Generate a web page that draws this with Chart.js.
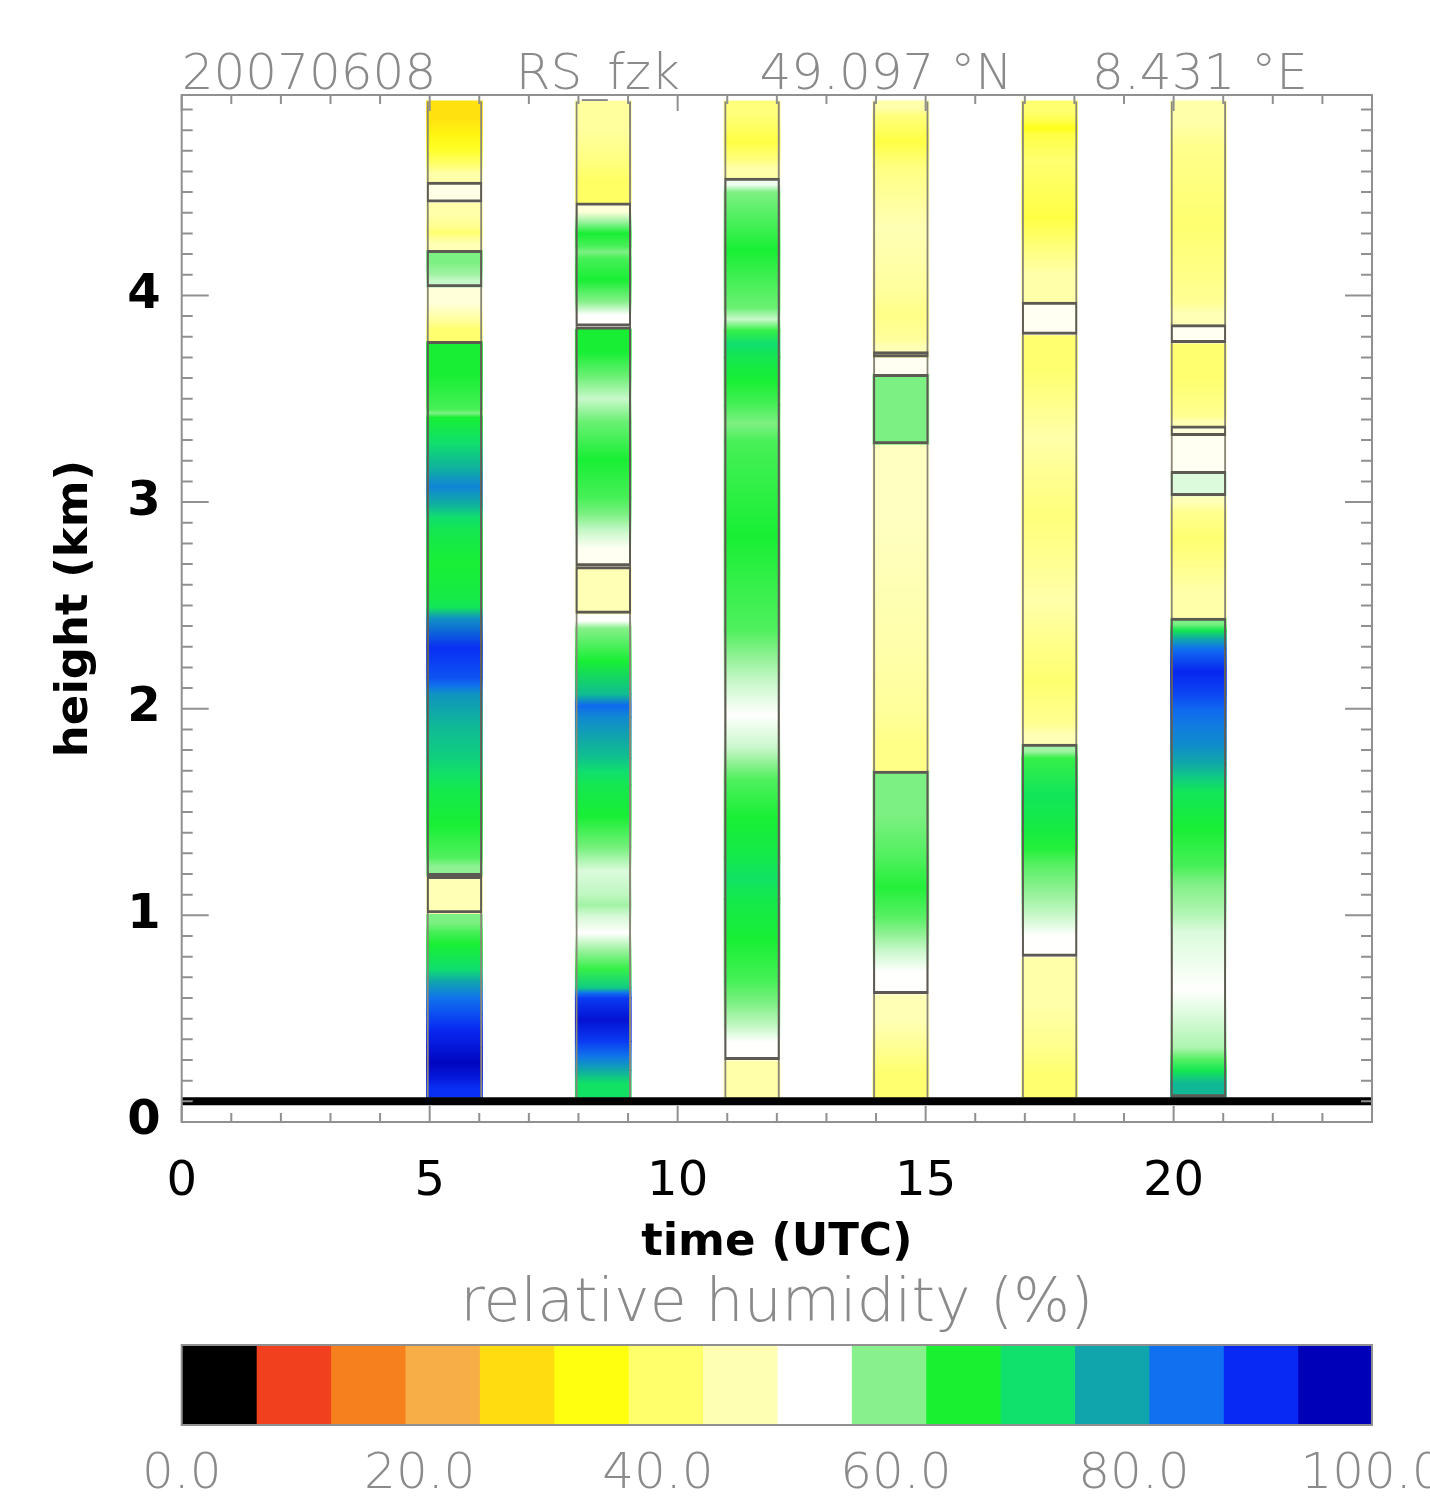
<!DOCTYPE html>
<html>
<head>
<meta charset="utf-8">
<title>RS_fzk relative humidity 20070608</title>
<script src="https://cdn.jsdelivr.net/npm/chart.js@4.4.1/dist/chart.umd.min.js"></script>
<style>
  html, body { margin: 0; padding: 0; background: #fff; }
  #wrap { position: relative; width: 1430px; height: 1506px; }
  #profileChart { position: absolute; left: 0; top: 0; }
  #scaleChart { position: absolute; left: 0; top: 1275px; }
</style>
</head>
<body>
<div id="wrap">
  <canvas id="profileChart" width="1430" height="1275"></canvas>
  <canvas id="scaleChart" width="1430" height="231"></canvas>
</div>
<script>
const headerParts = ['20070608', 'RS_fzk', '49.097 °N', '8.431 °E'];
const hourTicks = [0, 5, 10, 15, 20];
const kmTicks = [0, 1, 2, 3, 4];
const rhTicks = [0, 20, 40, 60, 80, 100];

const launchHours = [5, 8, 11, 14, 17, 20];
const surfaceKm = 0.12;
const groundKm = 0.1;
const profileTopKm = 4.94;

// colour table: 16 classes of relative humidity
const rhLevels = [0, 6.25, 12.5, 18.75, 25, 31.25, 37.5, 43.75, 50, 56.25, 62.5, 68.75, 75, 81.25, 87.5, 93.75, 100];
const rhColors = ['#000000', '#f0401e', '#f6801e', '#f8ae46', '#ffdc10', '#ffff10', '#ffff6c', '#ffffb4',
                  '#ffffff', '#88f08c', '#18f030', '#10e06c', '#10a4ac', '#1070f0', '#0828f4', '#0000b8'];

// each sounding: layer tops (km) and relative humidity (%) of the layer below that top
const tops05 = [0.21, 0.36, 0.52, 0.68, 0.80, 0.92, 1.01, 1.19, 1.28, 1.60, 1.76, 2.07, 2.15, 2.44, 2.54, 2.86, 2.99, 3.16, 3.41, 3.45, 3.78, 3.89, 4.04, 4.10, 4.22, 4.28, 4.33, 4.45, 4.55, 4.63, 4.78, 4.94];
const rh05   = [90, 96, 91, 84, 72, 66, 60, 47, 59, 66, 71, 76, 84, 90, 70, 66, 72, 82, 72, 60, 66, 41, 50, 56, 60, 47, 41, 46, 51, 46, 36, 29];

const tops08 = [0.25, 0.39, 0.60, 0.65, 0.83, 1.00, 1.10, 1.33, 1.63, 1.76, 1.96, 2.07, 2.39, 2.46, 2.69, 2.86, 3.02, 3.39, 3.61, 3.84, 3.97, 4.18, 4.24, 4.36, 4.45, 4.66, 4.94];
const rh08   = [71, 84, 94, 84, 64, 53, 58, 55, 66, 72, 78, 85, 66, 53, 47, 52, 60, 66, 56, 66, 53, 66, 60, 66, 50, 40, 45];

const tops11 = [0.30, 0.47, 0.68, 1.08, 1.28, 1.66, 1.81, 2.13, 2.38, 3.29, 3.47, 3.70, 3.83, 3.94, 4.50, 4.57, 4.66, 4.82, 4.94];
const rh11   = [46, 53, 60, 66, 71, 66, 59, 53, 59, 66, 60, 66, 72, 56, 66, 54, 46, 38, 42];

const tops14 = [0.36, 0.62, 0.83, 0.99, 1.28, 1.70, 1.97, 2.60, 3.28, 3.62, 3.70, 3.73, 3.78, 4.03, 4.62, 4.87, 4.94];
const rh14   = [41, 47, 53, 59, 65, 60, 43, 46, 48, 60, 52, 48, 47, 43, 47, 38, 46];

const tops17 = [0.36, 0.80, 1.00, 1.24, 1.41, 1.76, 1.83, 1.92, 2.34, 2.71, 3.15, 3.47, 3.81, 3.97, 4.23, 4.52, 4.78, 4.84, 4.94];
const rh17   = [41, 46, 53, 59, 65, 70, 58, 47, 41, 46, 42, 46, 41, 52, 46, 38, 41, 35, 41];

const tops20 = [0.25, 0.36, 0.92, 1.08, 1.24, 1.60, 1.73, 1.92, 2.07, 2.29, 2.38, 2.44, 2.69, 2.96, 3.03, 3.15, 3.32, 3.37, 3.41, 3.77, 3.86, 3.97, 4.73, 4.94];
const rh20   = [76, 62, 53, 57, 60, 66, 74, 81, 85, 91, 78, 60, 46, 41, 47, 55, 52, 50, 47, 41, 52, 47, 41, 46];

// outlined layers (km)
const boxes05 = [[1.01, 1.19], [1.19, 3.78], [4.04, 4.22], [4.45, 4.55]];
const boxes08 = [[2.46, 2.69], [2.69, 3.85], [3.85, 4.45]];
const boxes11 = [[0.30, 4.57]];
const boxes14 = [[0.62, 1.70], [3.28, 3.62], [3.70, 3.73]];
const boxes17 = [[0.80, 1.83], [3.81, 3.97]];
const boxes20 = [[0.12, 2.44], [3.03, 3.15], [3.32, 3.37], [3.77, 3.86]];

const profiles = [
    { tops: tops05, rh: rh05, boxes: boxes05 },
    { tops: tops08, rh: rh08, boxes: boxes08 },
    { tops: tops11, rh: rh11, boxes: boxes11 },
    { tops: tops14, rh: rh14, boxes: boxes14 },
    { tops: tops17, rh: rh17, boxes: boxes17 },
    { tops: tops20, rh: rh20, boxes: boxes20 }
];

const axisGray = '#909090';
const textGray = '#8a8a8a';
Chart.defaults.font.family = '"DejaVu Sans", sans-serif';

function hexToRgb(hex) {
    return [1, 3, 5].map(i => parseInt(hex.slice(i, i + 2), 16));
}

// colour of a humidity value, blended between class centres
function rhColor(v) {
    const step = rhLevels[1] - rhLevels[0];
    const pos = Math.min(Math.max(v / step - 0.5, 0), rhColors.length - 1);
    const i = Math.min(Math.floor(pos), rhColors.length - 2);
    const t = pos - i;
    const a = hexToRgb(rhColors[i]);
    const b = hexToRgb(rhColors[i + 1]);
    return 'rgb(' + a.map((c, k) => Math.round(c + (b[k] - c) * t)).join(',') + ')';
}

// soft vertical shading between neighbouring layers, sharp at outlined edges
function layerFill(p) {
    const edges = p.boxes.flat();
    const onEdge = h => edges.some(e => Math.abs(e - h) < 0.025);
    return ctx => {
        const i = ctx.dataIndex;
        const v = p.rh[i];
        const y = ctx.chart.scales.y;
        if (!y || ctx.type !== 'data') return rhColor(v);
        const lo = i ? p.tops[i - 1] : surfaceKm;
        const hi = p.tops[i];
        const y0 = y.getPixelForValue(lo);
        const y1 = y.getPixelForValue(hi);
        if (!isFinite(y0) || !isFinite(y1) || y0 === y1) return rhColor(v);
        const below = (i > 0 && !onEdge(lo)) ? (v + p.rh[i - 1]) / 2 : v;
        const above = (i < p.rh.length - 1 && !onEdge(hi)) ? (v + p.rh[i + 1]) / 2 : v;
        const g = ctx.chart.ctx.createLinearGradient(0, y0, 0, y1);
        g.addColorStop(0, rhColor(below));
        g.addColorStop(0.5, rhColor(v));
        g.addColorStop(1, rhColor(above));
        return g;
    };
}

const segmentSets = profiles.map((p, c) => ({
    type: 'bar',
    label: launchHours[c] + ' UTC',
    data: p.tops.map((top, i) => ({ x: launchHours[c] + 0.5, y: [i ? p.tops[i - 1] : surfaceKm, top] })),
    backgroundColor: layerFill(p),
    borderWidth: 0,
    inflateAmount: 0.6,
    order: 3
}));

const outlineSet = {
    type: 'bar',
    label: 'soundings',
    data: launchHours.map(h => ({ x: h + 0.5, y: [surfaceKm, profileTopKm] })),
    backgroundColor: 'rgba(0,0,0,0)',
    borderColor: '#8a8678',
    borderWidth: { left: 2, right: 2, top: 0, bottom: 0 },
    borderSkipped: false,
    order: 2
};

const boxSet = {
    type: 'bar',
    label: 'layers',
    data: profiles.flatMap((p, c) => p.boxes.map(b => ({ x: launchHours[c] + 0.5, y: b }))),
    backgroundColor: 'rgba(0,0,0,0)',
    borderColor: '#5c5a52',
    borderWidth: { left: 2, right: 2, top: 3, bottom: 3 },
    borderSkipped: false,
    order: 1
};

const groundSet = {
    type: 'line',
    label: 'ground',
    data: [{ x: 0, y: groundKm }, { x: 24, y: groundKm }],
    borderColor: '#000',
    borderWidth: 8,
    pointRadius: 0,
    order: 0
};

// header line above the plot
const headerText = {
    id: 'headerText',
    afterDraw(chart) {
        const { ctx, chartArea } = chart;
        ctx.save();
        ctx.font = '200 50px "DejaVu Sans"';
        ctx.fillStyle = textGray;
        ctx.textBaseline = 'alphabetic';
        ctx.textAlign = 'left';
        ctx.fillText(headerParts.join('     '), chartArea.left, chartArea.top - 6);
        ctx.restore();
    }
};

// frame with inward tick marks on all four sides
const idlFrame = {
    id: 'idlFrame',
    afterDatasetsDraw(chart) {
        const { ctx, chartArea: a, scales: { x, y } } = chart;
        ctx.save();
        ctx.strokeStyle = axisGray;
        ctx.lineWidth = 2;
        ctx.strokeRect(a.left, a.top, a.right - a.left, a.bottom - a.top);
        ctx.beginPath();
        for (let h = 0; h <= 24; h++) {
            const px = x.getPixelForValue(h);
            const len = h % 5 === 0 ? 16 : 9;
            ctx.moveTo(px, a.bottom);
            ctx.lineTo(px, a.bottom - len);
            ctx.moveTo(px, a.top);
            ctx.lineTo(px, a.top + len);
        }
        for (let k = 0; k <= 49; k++) {
            const py = y.getPixelForValue(k / 10);
            const len = k % 10 === 0 ? 27 : 11;
            ctx.moveTo(a.left, py);
            ctx.lineTo(a.left + len, py);
            ctx.moveTo(a.right, py);
            ctx.lineTo(a.right - len, py);
        }
        ctx.stroke();
        ctx.restore();
    }
};

new Chart(document.getElementById('profileChart'), {
    type: 'bar',
    data: { datasets: [...segmentSets, outlineSet, boxSet, groundSet] },
    options: {
        responsive: false,
        animation: false,
        devicePixelRatio: 1,
        datasets: {
            bar: { grouped: false, barPercentage: 1.12, categoryPercentage: 1 }
        },
        layout: { padding: { left: 0, right: 58, top: 95, bottom: 0 } },
        plugins: {
            legend: { display: false },
            tooltip: { enabled: false }
        },
        scales: {
            x: {
                type: 'linear',
                min: 0,
                max: 24,
                offset: false,
                grid: { display: false, drawTicks: false, offset: false },
                border: { display: false },
                ticks: {
                    stepSize: 1,
                    maxTicksLimit: 100,
                    autoSkip: false,
                    maxRotation: 0,
                    padding: 32,
                    color: '#000',
                    font: { size: 48 },
                    callback: v => hourTicks.includes(v) ? String(v) : ''
                },
                title: {
                    display: true,
                    text: 'time (UTC)',
                    color: '#000',
                    font: { size: 45, weight: 'bold' },
                    padding: { top: 0, bottom: 5 }
                },
                afterFit: s => { s.height = 153; s.paddingLeft = 0; s.paddingRight = 0; }
            },
            y: {
                type: 'linear',
                min: 0,
                max: 4.97,
                grid: { display: false, drawTicks: false },
                border: { display: false },
                ticks: {
                    stepSize: 1,
                    includeBounds: false,
                    padding: 21,
                    color: '#000',
                    font: { size: 48, weight: 'bold' },
                    callback: v => kmTicks.includes(v) ? String(v) : ''
                },
                title: {
                    display: true,
                    text: 'height (km)',
                    color: '#000',
                    font: { size: 45, weight: 'bold' },
                    padding: { top: 48, bottom: 0 }
                },
                afterFit: s => { s.width = 181.7; s.paddingTop = 0; s.paddingBottom = 0; }
            }
        }
    },
    plugins: [headerText, idlFrame]
});

// colour bar below the plot
const barOutline = {
    id: 'barOutline',
    afterDatasetsDraw(chart) {
        const { ctx, chartArea: a } = chart;
        ctx.save();
        ctx.strokeStyle = axisGray;
        ctx.lineWidth = 2;
        ctx.strokeRect(a.left, a.top, a.right - a.left, a.bottom - a.top);
        ctx.restore();
    }
};

new Chart(document.getElementById('scaleChart'), {
    type: 'bar',
    data: {
        labels: [''],
        datasets: rhColors.map((col, i) => ({
            label: rhLevels[i] + '-' + rhLevels[i + 1],
            data: [[rhLevels[i], rhLevels[i + 1]]],
            backgroundColor: col,
            borderWidth: 0,
            inflateAmount: 0.6,
            grouped: false,
            barPercentage: 1,
            categoryPercentage: 1
        }))
    },
    options: {
        indexAxis: 'y',
        responsive: false,
        animation: false,
        devicePixelRatio: 1,
        layout: { padding: { left: 181.7, right: 58, top: 0, bottom: 0 } },
        plugins: {
            legend: { display: false },
            tooltip: { enabled: false },
            title: {
                display: true,
                text: 'relative humidity (%)',
                color: textGray,
                font: { size: 60, weight: 200, lineHeight: 1 },
                padding: { top: 0, bottom: 10 }
            }
        },
        scales: {
            x: {
                type: 'linear',
                min: 0,
                max: 100,
                grid: { display: false, drawTicks: false },
                border: { display: false },
                ticks: {
                    stepSize: 20,
                    autoSkip: false,
                    maxRotation: 0,
                    padding: 20,
                    color: textGray,
                    font: { size: 50, weight: 200 },
                    callback: v => rhTicks.includes(v) ? v.toFixed(1) : ''
                },
                afterFit: s => { s.height = 81; s.paddingLeft = 0; s.paddingRight = 0; }
            },
            y: { display: false }
        }
    },
    plugins: [barOutline]
});
</script>
</body>
</html>
